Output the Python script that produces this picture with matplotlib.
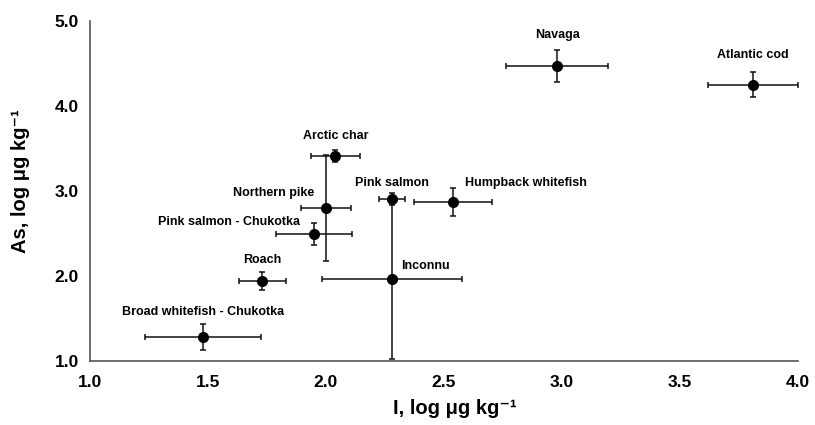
import matplotlib
matplotlib.use("Agg")
import matplotlib.pyplot as plt

plt.rcParams["font.family"] = ["Liberation Sans", "DejaVu Sans"]
plt.rcParams["font.weight"] = "bold"

species = [
    "Broad whitefish - Chukotka", "Roach", "Pink salmon - Chukotka",
    "Northern pike", "Arctic char", "Pink salmon", "Inconnu",
    "Humpback whitefish", "Navaga", "Atlantic cod",
]
iodine = [1.48, 1.73, 1.95, 2.00, 2.04, 2.28, 2.28, 2.54, 2.98, 3.81]
iodine_err = [0.245, 0.10, 0.16, 0.105, 0.105, 0.055, 0.295, 0.165, 0.215, 0.19]
arsenic = [1.28, 1.94, 2.49, 2.80, 3.41, 2.91, 1.96, 2.87, 4.47, 4.25]
arsenic_err = [0.15, 0.11, 0.13, 0.62, 0.07, 0.07, 0.94, 0.17, 0.19, 0.15]

# label offsets in points (dx, dy, horizontal alignment)
label_pos = [
    (0, 18, "center"), (0, 15, "center"), (-10, 8.6, "right"),
    (-8.6, 10.8, "right"), (0, 14.4, "center"), (0, 11.5, "center"),
    (6.5, 10, "left"), (8.6, 13.7, "left"), (0, 22, "center"), (0, 21.6, "center"),
]

fig = plt.figure(figsize=(8.15, 4.25), dpi=100)
ax = fig.add_axes([0.1104, 0.1506, 0.8686, 0.80])

ax.errorbar(iodine, arsenic, xerr=iodine_err, yerr=arsenic_err, fmt="o",
            color="black", ms=7, ecolor="#111111", elinewidth=1.1,
            capsize=2.2, capthick=1.1)

for name, x, y, (dx, dy, ha) in zip(species, iodine, arsenic, label_pos):
    ax.annotate(name, (x, y), xytext=(dx, dy), textcoords="offset points",
                ha=ha, va="center", fontsize=9, fontweight="bold")

ax.set_xlim(1.0, 4.0)
ax.set_ylim(1.0, 5.0)
ax.set_xticks([1.0, 1.5, 2.0, 2.5, 3.0, 3.5, 4.0])
ax.set_yticks([1.0, 2.0, 3.0, 4.0, 5.0])
ax.set_xticklabels(["1.0", "1.5", "2.0", "2.5", "3.0", "3.5", "4.0"])
ax.set_yticklabels(["1.0", "2.0", "3.0", "4.0", "5.0"])
ax.tick_params(length=0, labelsize=12.5)
ax.tick_params(axis="x", pad=10)
ax.tick_params(axis="y", pad=8)
for lab in ax.get_xticklabels() + ax.get_yticklabels():
    lab.set_fontweight("bold")

for side in ["top", "right"]:
    ax.spines[side].set_visible(False)
for side in ["left", "bottom"]:
    ax.spines[side].set_color("#555555")
    ax.spines[side].set_linewidth(1.2)

ax.set_xlabel("I, log μg kg⁻¹", fontsize=14.5, fontweight="bold")
ax.set_ylabel("As, log μg kg⁻¹", fontsize=14.5, fontweight="bold")
ax.xaxis.set_label_coords(0.516, -0.112)
ax.yaxis.set_label_coords(-0.085, 0.53)

fig.savefig("out.png", dpi=100)
